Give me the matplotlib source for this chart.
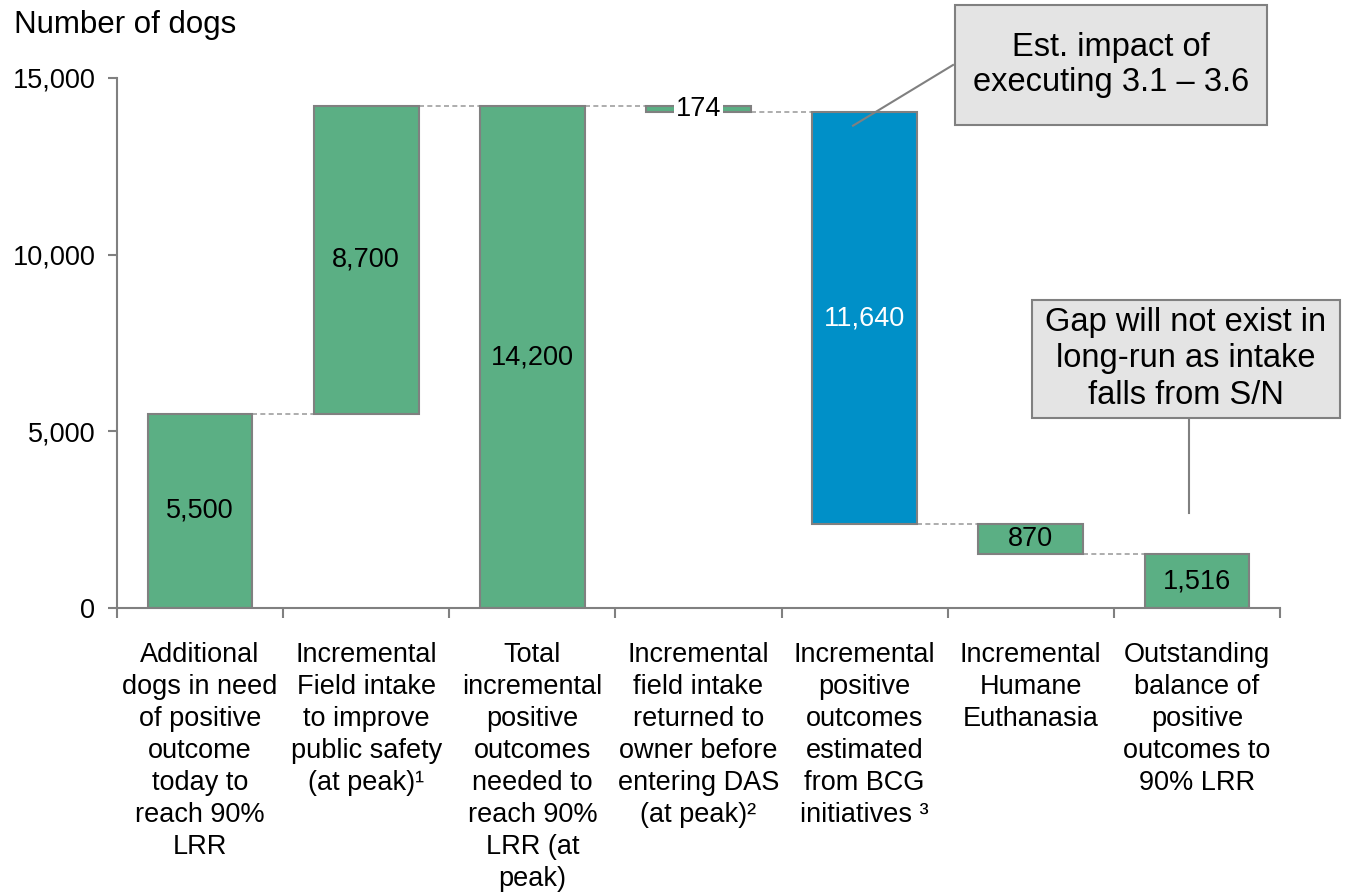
import matplotlib
matplotlib.use("Agg")
import matplotlib.pyplot as plt
from matplotlib.patches import Rectangle
from matplotlib.lines import Line2D
import numpy as np

plt.rcParams['font.family'] = ['Liberation Sans', 'DejaVu Sans']

# waterfall data
categories = [
    "Additional\ndogs in need\nof positive\noutcome\ntoday to\nreach 90%\nLRR",
    "Incremental\nField intake\nto improve\npublic safety\n(at peak)\u00b9",
    "Total\nincremental\npositive\noutcomes\nneeded to\nreach 90%\nLRR (at\npeak)",
    "Incremental\nfield intake\nreturned to\nowner before\nentering DAS\n(at peak)\u00b2",
    "Incremental\npositive\noutcomes\nestimated\nfrom BCG\ninitiatives \u00b3",
    "Incremental\nHumane\nEuthanasia",
    "Outstanding\nbalance of\npositive\noutcomes to\n90% LRR",
]
values = [5500, 8700, 14200, 174, 11640, 870, 1516]
bottoms = [0, 5500, 0, 14026, 2386, 1516, 0]
labels = ["5,500", "8,700", "14,200", "174", "11,640", "870", "1,516"]
yticks = [0, 5000, 10000, 15000]

green = "#5BAF84"
blue = "#0090C8"
edge = "#808080"
colors = [green, green, green, green, blue, green, green]

W, H = 1351, 892
fig = plt.figure(figsize=(W / 100, H / 100), dpi=100)
ax = fig.add_axes([117 / W, 1 - 608 / H, 1163 / W, 530 / H])

x = np.arange(len(values))
w = 0.63
ax.bar(x, values, bottom=bottoms, width=w, color=colors, edgecolor=edge, linewidth=1.5, zorder=2)

# dotted connectors between bars
tops = [b + v for b, v in zip(bottoms, values)]
levels = [tops[0], tops[1], tops[2], bottoms[3], bottoms[4], bottoms[5]]
for i, lv in enumerate(levels):
    ax.plot([i + w / 2, i + 1 - w / 2], [lv, lv], color="#A0A0A0", linestyle=(0, (3, 2)),
            linewidth=1.2, zorder=1)

# labels on bars
for i, (b, v, lab) in enumerate(zip(bottoms, values, labels)):
    c = "white" if colors[i] == blue else "black"
    if lab == "174":
        ax.text(i, b + v / 2, lab, ha="center", va="center", fontsize=19.5,
                bbox=dict(facecolor="white", edgecolor="none", pad=1), zorder=3)
    else:
        ax.text(i, b + v / 2, lab, ha="center", va="center", fontsize=19.5, color=c, zorder=3)

ax.set_xlim(-0.5, len(values) - 0.5)
ax.set_ylim(0, 15000)
ax.set_yticks(yticks)
ax.set_yticklabels(["{:,}".format(t) for t in yticks], fontsize=19.5)
ax.set_xticks(np.arange(len(values) + 1) - 0.5)
ax.set_xticklabels([])
ax.tick_params(axis="x", length=7, width=1.5, color=edge, direction="out")
ax.tick_params(axis="y", length=6.5, width=1.5, color=edge, direction="out", pad=9)
for s in ["top", "right"]:
    ax.spines[s].set_visible(False)
for s in ["left", "bottom"]:
    ax.spines[s].set_color(edge)
    ax.spines[s].set_linewidth(1.5)

for i, cat in enumerate(categories):
    ax.text(i, -0.064, cat, transform=ax.get_xaxis_transform(), ha="center", va="top",
            fontsize=19.5, linespacing=1.3)

fig.text(14 / W, 1 - 25 / H, "Number of dogs", ha="left", va="center", fontsize=22.5)


# callout boxes drawn in figure pixel coords
def px(xp, yp):
    return xp / W, 1 - yp / H


def callout(x0, y0, x1, y1, text, ls):
    fig.add_artist(Rectangle(px(x0, y1), (x1 - x0) / W, (y1 - y0) / H, transform=fig.transFigure,
                             facecolor="#E4E4E4", edgecolor=edge, linewidth=1.5, zorder=5))
    cx, cy = px((x0 + x1) / 2, (y0 + y1) / 2)
    fig.text(cx, cy, text, ha="center", va="center", fontsize=23.5, linespacing=ls, zorder=6)


def data_px(xd, yd):
    return (117 + (xd + 0.5) * 1163 / 7, 608 - yd * 530 / 15000)


callout(955, 5, 1267, 125, "Est. impact of\nexecuting 3.1 \u2013 3.6", 1.2)
callout(1032, 300, 1340, 418, "Gap will not exist in\nlong-run as intake\nfalls from S/N", 1.25)

ex, ey = data_px(3.93, 13650)
fig.add_artist(Line2D([953 / W, ex / W], [1 - 65 / H, 1 - ey / H], transform=fig.transFigure,
                      color=edge, linewidth=1.5, zorder=4))
gx, gy = data_px(5.95, 2690)
fig.add_artist(Line2D([gx / W, gx / W], [1 - 418 / H, 1 - gy / H], transform=fig.transFigure,
                      color=edge, linewidth=1.5, zorder=4))

fig.savefig("out.png", dpi=100)
